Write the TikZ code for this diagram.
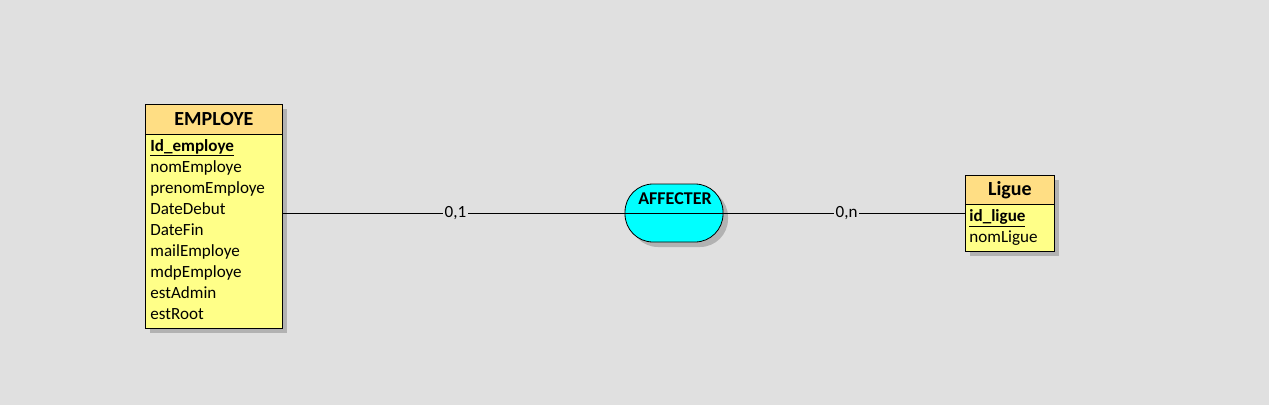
\documentclass[tikz,border=0pt]{standalone}
\usepackage{fontspec}
\setmainfont{Carlito}
\usetikzlibrary{positioning,shadows}

\definecolor{bgcol}{HTML}{E0E0E0}
\definecolor{headcol}{HTML}{FFDE84}
\definecolor{bodycol}{HTML}{FFFF88}
\definecolor{shadowcol}{HTML}{B2B2B2}
\definecolor{assoccol}{HTML}{00FFFF}

\tikzset{
  pshadow/.style={drop shadow={shadow xshift=3.75pt, shadow yshift=-3.75pt, fill=shadowcol, opacity=1}},
  enthead/.style={draw, fill=headcol, pshadow, anchor=north west, inner sep=0pt,
    font=\bfseries\fontsize{15}{17}\selectfont},
  entbody/.style={draw, fill=bodycol, pshadow, anchor=north west, inner sep=0pt},
  attrib/.style={anchor=base west, inner sep=0pt, font=\fontsize{12.8}{15}\selectfont},
  assoc/.style={draw, fill=assoccol, pshadow, rounded corners=21pt, inner sep=0pt,
    minimum width=73.5pt, minimum height=43.5pt},
  assocname/.style={inner sep=0pt, font=\bfseries\fontsize{13.5}{15}\selectfont},
  card/.style={fill=bgcol, inner sep=1pt, font=\fontsize{12.8}{15}\selectfont},
  link/.style={draw=black, line width=0.6pt},
}

\begin{document}
\begin{tikzpicture}[x=0.75pt, y=-0.75pt, line width=0.6pt]
\fill[bgcol] (0,0) rectangle (1269,405);
\useasboundingbox (0,0) rectangle (1269,405);

% entite EMPLOYE
\node[enthead, minimum width=102.75pt, minimum height=22.5pt] (employe-head) at (145,104) {EMPLOYE};
\node[entbody, minimum width=102.75pt, minimum height=145.5pt] (employe-body) at (145,134) {};
\node[attrib] (employe-a0) at (150,151) {\underline{\textbf{Id\_employe}}};
\foreach \attr [count=\i] in {nomEmploye,prenomEmploye,DateDebut,DateFin,mailEmploye,mdpEmploye,estAdmin,estRoot}
  \node[attrib] (employe-a\i) at (150,{151+21*\i}) {\attr};

% entite Ligue
\node[enthead, minimum width=66.75pt, minimum height=21.75pt] (ligue-head) at (965,175) {Ligue};
\node[entbody, minimum width=66.75pt, minimum height=35.25pt] (ligue-body) at (965,204) {};
\node[attrib] (ligue-a0) at (969,221) {\underline{\textbf{id\_ligue}}};
\node[attrib] (ligue-a1) at (969,242) {nomLigue};

% association AFFECTER
\node[assoc] (affecter) at (674,213) {};
\draw (affecter.west) -- (affecter.east);
\node[assocname] (affecter-name) at (675,199) {AFFECTER};

% liens
\draw[link] (affecter.west -| employe-body.east) -- (affecter.west)
  node[card, pos=0.505] (card-employe) {0,1};
\draw[link] (affecter.east) -- (affecter.east -| ligue-body.west)
  node[card, pos=0.51] (card-ligue) {0,n};

\end{tikzpicture}
\end{document}
